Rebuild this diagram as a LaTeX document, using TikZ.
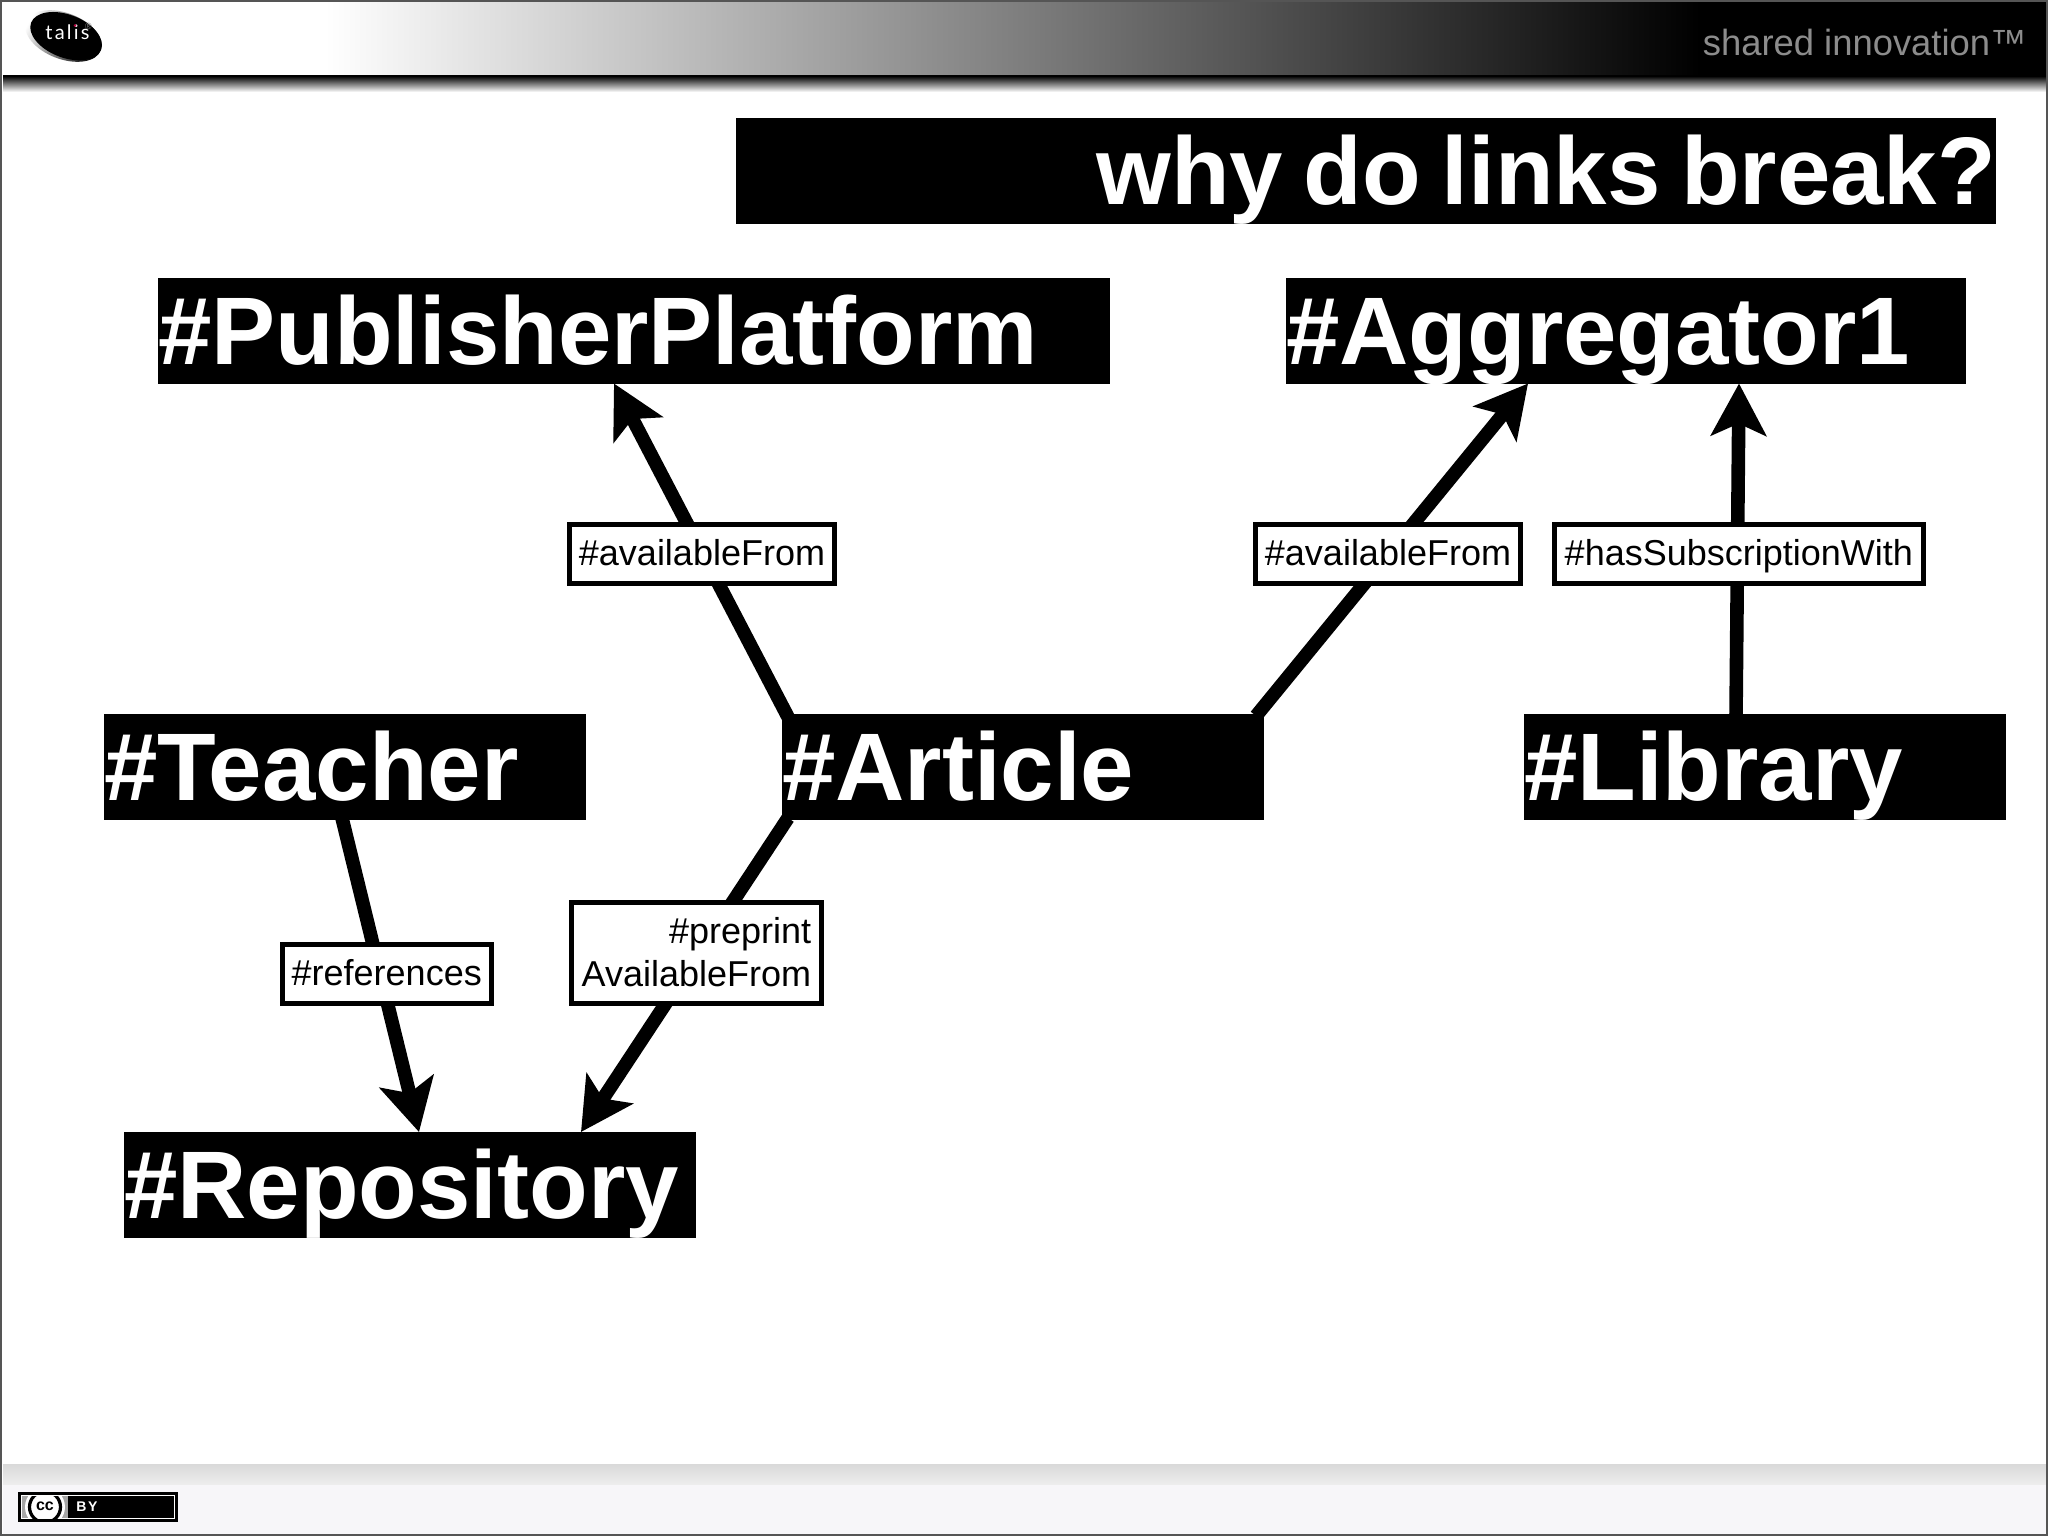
\documentclass[tikz,border=0pt]{standalone}
\usepackage{fontspec}
\setmainfont{Liberation Sans}
\newfontfamily\logofont{Lato}
\usetikzlibrary{arrows.meta,shapes.geometric}
\pgfdeclarelayer{backdrop}
\pgfdeclarelayer{wires}
\pgfsetlayers{backdrop,wires,main}
\definecolor{framegray}{HTML}{555555}
\definecolor{tagline}{HTML}{8C8C8C}
\definecolor{footlight}{HTML}{F7F6F9}
\newcommand{\lst}{\rule[-3.3pt]{0pt}{18.3pt}}
\tikzset{
  bar/.style={anchor=north west,fill=black,text=white,inner sep=0pt,outer sep=0pt,
    font=\fontsize{48}{56}\selectfont\bfseries,text height=43.25pt,text depth=9.75pt,align=left},
  tag/.style={draw=black,line width=2.5pt,fill=white,text=black,inner sep=0pt,outer sep=0pt,
    font=\fontsize{18}{21.5}\selectfont,align=right},
  link/.style={line width=6.8pt,draw=black,-{Stealth[length=26pt,width=27.5pt,inset=6pt]}}
}
\begin{document}
\begin{tikzpicture}[x=0.5pt,y=-0.5pt]
\useasboundingbox (0,0) rectangle (2048,1536);
\begin{pgfonlayer}{backdrop}
  \fill[white] (0,0) rectangle (2048,1536);
  % header
  \shade[left color=white,right color=black,shading angle=90] (325,2) rectangle (1700,76);
  \fill[black] (1700,2) rectangle (2046,76);
  \shade[top color=black,bottom color=white] (3,76) rectangle (2046,92);
  % footer
  \fill[footlight] (3,1484) rectangle (2046,1534);
  \shade[top color=black!15,bottom color=black!7] (3,1464) rectangle (2046,1484);
  % frame
  \draw[framegray,line width=1pt] (1,1) rectangle (2047,1535);
\end{pgfonlayer}
% logo
\begin{scope}[shift={(63.5,36)},rotate=-21]
  \shade[left color=white,right color=black,shading angle=60] (0,0) ellipse [x radius=40,y radius=23];
  \fill[black] (2.5,-0.8) ellipse [x radius=37.5,y radius=21.5];
\end{scope}
\node[anchor=base,inner sep=0pt,text=white,font=\logofont\fontsize{10}{12}\selectfont] (talis) at (67.5,40) {t\kern1.1pt a\kern1.1pt l\kern1.1pt i\kern1.1pt s};
\fill[purple] (75,25.5) circle (1.4);
\node[inner sep=0pt,text=black!50,font=\fontsize{4.5}{5}\selectfont] (reg) at (88.5,26) {®};
% tagline
\node[anchor=base east,inner sep=0pt,text=tagline,font=\fontsize{18.2}{21}\selectfont] (shared) at (2027,56) {shared innovation™};
% title and concepts
\node[bar,text width=630pt,align=right] (title) at (736,118) {\spaceskip=10.3pt\relax why do links break?};
\node[bar,text width=476pt] (pub) at (158,277.5) {\#PublisherPlatform};
\node[bar,text width=340pt] (agg) at (1286,277.5) {\#Aggregator1};
\node[bar,text width=241pt] (tea) at (104,714) {\#Teacher};
\node[bar,text width=241pt] (art) at (782,714) {\#Article};
\node[bar,text width=241pt] (lib) at (1524,714) {\#Library};
\node[bar,text width=286pt] (rep) at (124,1132) {\#Repository};
% connectors
\begin{pgfonlayer}{wires}
  \draw[link] ([shift={(6,3)}]art.north west) -- ([shift={(456,0)}]pub.south west);
  \draw[link] ([shift={(-8,2)}]art.north east) -- ([shift={(242,0)}]agg.south west);
  \draw[link] ([shift={(212,2)}]lib.north west) -- ([shift={(453,0)}]agg.south west);
  \draw[link] ([shift={(238,-2)}]tea.south west) -- ([shift={(295,0)}]rep.north west);
  \draw[link] ([shift={(6,-2)}]art.south west) -- ([shift={(457,0)}]rep.north west);
\end{pgfonlayer}
% labels
\node[tag,minimum width=132.5pt,minimum height=29.2pt] (l1) at (702,554) {\lst\#availableFrom};
\node[tag,minimum width=132.5pt,minimum height=29.2pt] (l2) at (1388,554) {\lst\#availableFrom};
\node[tag,minimum width=184.3pt,minimum height=29.2pt] (l3) at (1738.8,554) {\lst\#hasSubscriptionWith};
\node[tag,minimum width=104.75pt,minimum height=29.2pt] (l4) at (386.75,974) {\lst\#references};
\node[tag,minimum width=124.85pt,minimum height=50.35pt] (l5) at (696.4,952.9) {\lst\#preprint\\\lst AvailableFrom};
% licence badge
\fill[black] (18,1492) rectangle (178,1522);
\fill[white] (21,1495) rectangle (175,1519);
\fill[black!35] (22,1496) rectangle (68,1518);
\fill[black] (68,1496) rectangle (174,1518);
\begin{scope}
  \clip (22,1496) rectangle (68,1518);
  \fill[white] (45,1507) circle (20);
  \draw[black,line width=1.6pt] (45,1507) circle (15.5);
\end{scope}
\node[inner sep=0pt,font=\fontsize{8}{9}\selectfont\bfseries] (cc) at (45,1506.5) {cc};
\node[anchor=west,inner sep=0pt,text=white,font=\fontsize{7}{8}\selectfont\bfseries] (by) at (76,1507) {B\kern.8pt Y};
\end{tikzpicture}
\end{document}
